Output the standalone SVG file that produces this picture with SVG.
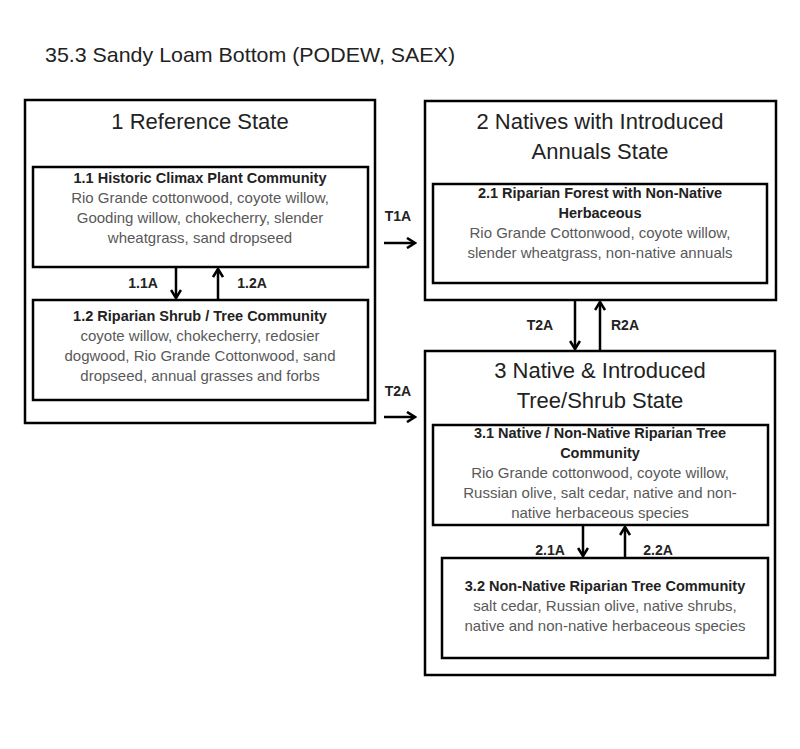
<svg xmlns="http://www.w3.org/2000/svg" width="800" height="749" viewBox="0 0 800 749">
<defs>
<marker id="chev" viewBox="0 0 12 12" refX="10" refY="6" markerWidth="12" markerHeight="12" orient="auto" markerUnits="userSpaceOnUse">
<path d="M2,1 L10,6 L2,11" fill="none" stroke="#000" stroke-width="2.6"/>
</marker>
<style>
.box{fill:#fff;stroke:#000;stroke-width:2.5}
.st{font-family:"Liberation Sans",Arial,sans-serif;font-size:22px;fill:#222;text-anchor:middle}
.bt{font-family:"Liberation Sans",Arial,sans-serif;font-size:14.5px;font-weight:bold;fill:#222;text-anchor:middle}
.nt{font-family:"Liberation Sans",Arial,sans-serif;font-size:15px;fill:#595959;text-anchor:middle}
.lb{font-family:"Liberation Sans",Arial,sans-serif;font-size:14px;font-weight:bold;fill:#222;text-anchor:middle}
.ar{stroke:#000;stroke-width:2.5;fill:none}
</style>
</defs>
<rect width="800" height="749" fill="#fff"/>
<text x="45" y="62" font-family="Liberation Sans,Arial,sans-serif" font-size="21" fill="#222" textLength="410" lengthAdjust="spacingAndGlyphs">35.3 Sandy Loam Bottom (PODEW, SAEX)</text>

<g id="state1">
<rect class="box" x="25" y="100" width="350" height="323"/>
<text class="st" x="200" y="129">1 Reference State</text>
</g>
<g id="c11">
<rect class="box" x="33" y="167" width="335" height="100"/>
<text class="bt" x="200" y="183">1.1 Historic Climax Plant Community</text>
<text class="nt" x="200" y="203">Rio Grande cottonwood,  coyote willow,</text>
<text class="nt" x="200" y="223">Gooding willow, chokecherry, slender</text>
<text class="nt" x="200" y="243">wheatgrass, sand dropseed</text>
</g>
<g id="c12">
<rect class="box" x="33" y="300" width="335" height="100"/>
<text class="bt" x="200" y="321">1.2 Riparian Shrub / Tree Community</text>
<text class="nt" x="200" y="341">coyote willow, chokecherry, redosier</text>
<text class="nt" x="200" y="361">dogwood, Rio Grande Cottonwood,  sand</text>
<text class="nt" x="200" y="381">dropseed, annual grasses and forbs</text>
</g>

<g id="state2">
<rect class="box" x="425" y="101" width="351" height="199"/>
<text class="st" x="600" y="129">2 Natives with Introduced</text>
<text class="st" x="600" y="159">Annuals State</text>
</g>
<g id="c21">
<rect class="box" x="433" y="184" width="334" height="99"/>
<text class="bt" x="600" y="198">2.1 Riparian Forest with Non-Native</text>
<text class="bt" x="600" y="218">Herbaceous</text>
<text class="nt" x="600" y="238">Rio Grande Cottonwood,  coyote willow,</text>
<text class="nt" x="600" y="258">slender wheatgrass, non-native  annuals</text>
</g>

<g id="state3">
<rect class="box" x="425" y="351" width="350" height="324"/>
<text class="st" x="600" y="378">3  Native &amp; Introduced</text>
<text class="st" x="600" y="408">Tree/Shrub State</text>
</g>
<g id="c31">
<rect class="box" x="433" y="425" width="335" height="100"/>
<text class="bt" x="600" y="438">3.1 Native / Non-Native Riparian Tree</text>
<text class="bt" x="600" y="458">Community</text>
<text class="nt" x="600" y="478">Rio Grande cottonwood,  coyote willow,</text>
<text class="nt" x="600" y="498">Russian olive, salt cedar, native and non-</text>
<text class="nt" x="600" y="518">native herbaceous species</text>
</g>
<g id="c32">
<rect class="box" x="442" y="558" width="326" height="100"/>
<text class="bt" x="605" y="591">3.2 Non-Native Riparian Tree Community</text>
<text class="nt" x="605" y="611">salt cedar, Russian olive, native shrubs,</text>
<text class="nt" x="605" y="631">native and non-native herbaceous species</text>
</g>

<g id="connectors">
<line class="ar" x1="176" y1="267" x2="176" y2="298" marker-end="url(#chev)"/>
<line class="ar" x1="218" y1="300" x2="218" y2="269" marker-end="url(#chev)"/>
<text class="lb" x="143" y="288">1.1A</text>
<text class="lb" x="252" y="288">1.2A</text>
<line class="ar" x1="384" y1="243" x2="415" y2="243" marker-end="url(#chev)"/>
<text class="lb" x="398" y="221">T1A</text>
<line class="ar" x1="384" y1="417" x2="415" y2="417" marker-end="url(#chev)"/>
<text class="lb" x="398" y="396">T2A</text>
<line class="ar" x1="575" y1="300" x2="575" y2="349" marker-end="url(#chev)"/>
<line class="ar" x1="600" y1="351" x2="600" y2="302" marker-end="url(#chev)"/>
<text class="lb" x="540" y="330">T2A</text>
<text class="lb" x="625" y="330">R2A</text>
<line class="ar" x1="583" y1="525" x2="583" y2="556" marker-end="url(#chev)"/>
<line class="ar" x1="625" y1="558" x2="625" y2="527" marker-end="url(#chev)"/>
<text class="lb" x="550" y="555">2.1A</text>
<text class="lb" x="658" y="555">2.2A</text>
</g>
</svg>
